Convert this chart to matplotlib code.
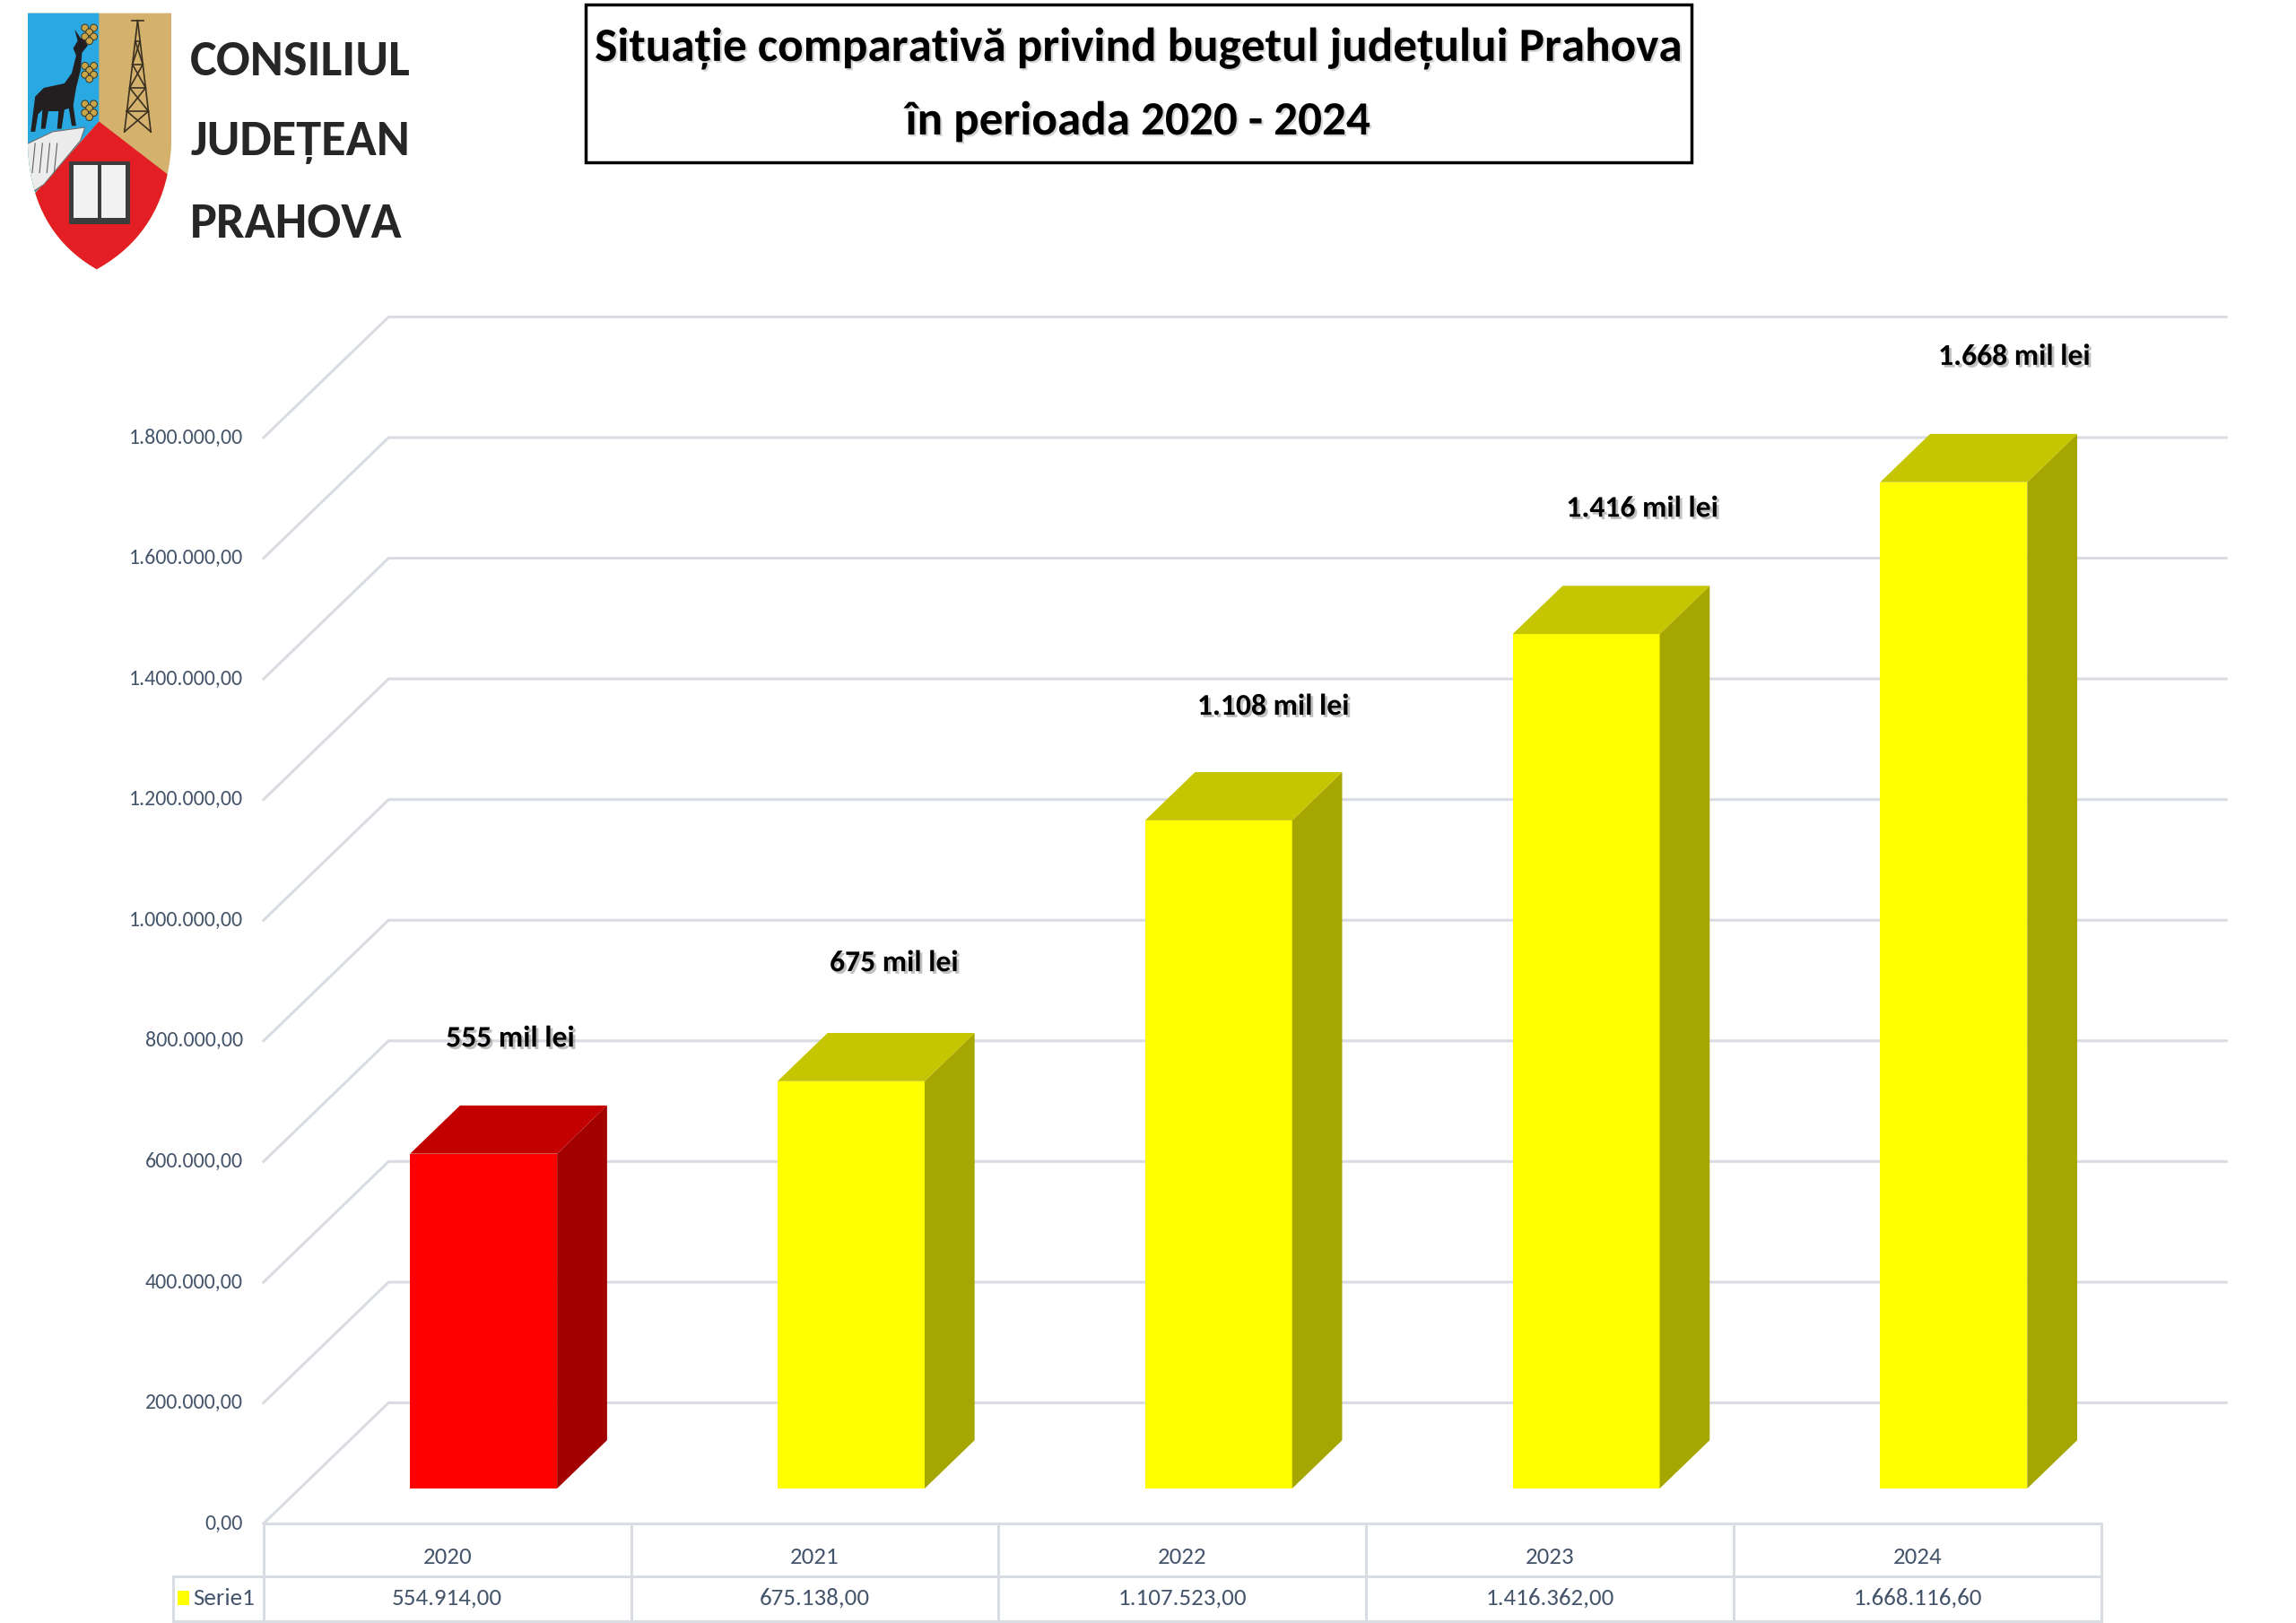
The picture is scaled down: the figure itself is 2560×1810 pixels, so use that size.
import matplotlib
matplotlib.use('Agg')
import matplotlib.pyplot as plt
from matplotlib.patches import Polygon, Rectangle, Circle
from matplotlib import font_manager as fm
from matplotlib.ft2font import FT2Font
import matplotlib.patheffects as pe
import numpy as np
import re

# ---------------- data ----------------
years = ['2020', '2021', '2022', '2023', '2024']
values = [554914.00, 675138.00, 1107523.00, 1416362.00, 1668116.60]
value_labels = ['554.914,00', '675.138,00', '1.107.523,00', '1.416.362,00', '1.668.116,60']
bar_labels = ['555 mil lei', '675 mil lei', '1.108 mil lei', '1.416 mil lei', '1.668 mil lei']
yticks = [0, 200000, 400000, 600000, 800000, 1000000, 1200000, 1400000, 1600000, 1800000]
ytick_labels = ['0,00', '200.000,00', '400.000,00', '600.000,00', '800.000,00',
                '1.000.000,00', '1.200.000,00', '1.400.000,00', '1.600.000,00', '1.800.000,00']
series_name = 'Serie1'
title_lines = ['Situație comparativă privind bugetul județului Prahova', 'în perioada 2020 - 2024']
logo_lines = ['CONSILIUL', 'JUDEȚEAN', 'PRAHOVA']

# ---------------- styles ----------------
front_colors = ['#FF0000', '#FFFF00', '#FFFF00', '#FFFF00', '#FFFF00']
side_colors = ['#A30000', '#A6A600', '#A6A600', '#A6A600', '#A6A600']
top_colors = ['#C20000', '#C6C600', '#C6C600', '#C6C600', '#C6C600']
GRID = '#D9DCE2'
TXT = '#44546A'
# label placement (layout px offsets: right of category centre / above bar's back top edge)
label_dx_px = [43, 54, 62, 63, 66]
label_dy_px = [46, 48, 45, 53, 53]

# ---------------- font choice (Calibri-like / narrow) ----------------
files = [f.fname for f in fm.fontManager.ttflist]
prefs = [
    (r'Carlito-Regular\.ttf$', r'Carlito-Bold\.ttf$'),
    (r'LiberationSansNarrow-Regular\.ttf$', r'LiberationSansNarrow-Bold\.ttf$'),
    (r'NotoSans-Condensed\.ttf$', r'NotoSans-CondensedBold\.ttf$'),
    (r'RobotoCondensed-Regular\.ttf$', r'RobotoCondensed-Bold\.ttf$'),
    (r'OpenSans_?Condensed-Regular\.ttf$', r'OpenSans_?Condensed-Bold\.ttf$'),
    (r'DejaVuSansCondensed\.ttf$', r'DejaVuSansCondensed-Bold\.ttf$'),
    (r'Lato-Regular\.ttf$', r'Lato-Bold\.ttf$'),
    (r'Roboto-Regular\.ttf$', r'Roboto-Bold\.ttf$'),
]


def has_glyphs(fname, chars='țȚîăÎ'):
    try:
        ft = FT2Font(fname)
        return all(ft.get_char_index(ord(c)) != 0 for c in chars)
    except Exception:
        return False


FP_REG = fm.FontProperties(family='DejaVu Sans')
FP_BOLD = fm.FontProperties(family='DejaVu Sans', weight='bold')
for preg, pbold in prefs:
    fr = [f for f in files if re.search(preg, f)]
    fb = [f for f in files if re.search(pbold, f)]
    if fr and fb and has_glyphs(fr[0]) and has_glyphs(fb[0]):
        FP_REG = fm.FontProperties(fname=fr[0])
        FP_BOLD = fm.FontProperties(fname=fb[0])
        break

W, H = 1568.0, 1109.0          # reference layout units
FIG_W, FIG_H = 2560, 1810
SX = FIG_W / W

fig = plt.figure(figsize=(FIG_W / 100, FIG_H / 100), dpi=100)
fig.patch.set_facecolor('white')
renderer = fig.canvas.get_renderer()


def fit_size(text, target_w, fp):
    t = fig.text(0, 0, text, fontproperties=fp)
    t.set_fontsize(20)
    w = t.get_window_extent(renderer).width
    t.remove()
    return 20 * target_w * SX / w


def txt(axis, x, y, s, fp, size, **kw):
    t = axis.text(x, y, s, fontproperties=fp, **kw)
    t.set_fontsize(size)
    return t


canvas = fig.add_axes([0, 0, 1, 1])
canvas.set_xlim(0, W)
canvas.set_ylim(H, 0)
canvas.axis('off')

# ---------------- chart axes ----------------
X0, X1 = 180.0, 1522.0
Y0, YT = 1041.0, 200.0
PX_CAT = 251.0
PX_VAL = (1041.0 - 299.0) / 1800000.0
ax = fig.add_axes([X0 / W, 1 - Y0 / H, (X1 - X0) / W, (Y0 - YT) / H])
ax.set_xlim(-0.5, -0.5 + (X1 - X0) / PX_CAT)
ax.set_ylim(0, (Y0 - YT) / PX_VAL)
ax.axis('off')


def vy(px):  # layout y (px) -> value units
    return (Y0 - px) / PX_VAL


def vx(px):  # layout x (px) -> category units
    return -0.5 + (px - X0) / PX_CAT


DX, DY = 0.34, 200000.0
F0, F1 = 0.29, 0.69
BW = 0.40
n = len(years)

# back wall + side wall grid
for v in yticks:
    ax.plot([-0.5, -0.5 + DX, n - 0.5 + DX], [v, v + DY, v + DY], color=GRID,
            lw=2.2, zorder=1, clip_on=False, solid_joinstyle='miter')

tick_fs = fit_size('1.800.000,00', 78, FP_REG)
for v, lab in zip(yticks, ytick_labels):
    txt(ax, vx(166), v, lab, FP_REG, tick_fs, ha='right', va='center', color=TXT, clip_on=False)

# bars
lab_fs = fit_size('1.668 mil lei', 100, FP_BOLD) * 1.04
shadow = [pe.withSimplePatchShadow(offset=(2, -2), shadow_rgbFace='#777777', alpha=0.45)]
for i, v in enumerate(values):
    x0 = i - BW / 2 + F0 * DX
    x1 = x0 + BW
    y0 = F0 * DY
    y1 = y0 + v
    ddx = (F1 - F0) * DX
    ddy = (F1 - F0) * DY
    ax.add_patch(Rectangle((x0, y0), BW, v, facecolor=front_colors[i], edgecolor='none',
                           zorder=3, clip_on=False))
    ax.add_patch(Polygon([(x1, y0), (x1 + ddx, y0 + ddy), (x1 + ddx, y1 + ddy), (x1, y1)],
                         closed=True, facecolor=side_colors[i], edgecolor='none', zorder=3, clip_on=False))
    ax.add_patch(Polygon([(x0, y1), (x1, y1), (x1 + ddx, y1 + ddy), (x0 + ddx, y1 + ddy)],
                         closed=True, facecolor=top_colors[i], edgecolor='none', zorder=3, clip_on=False))
    txt(ax, i + label_dx_px[i] / PX_CAT, y1 + ddy + label_dy_px[i] / PX_VAL, bar_labels[i],
        FP_BOLD, lab_fs, ha='center', va='center', color='black', zorder=5, clip_on=False,
        path_effects=shadow)

# data table
r1, r2 = vy(1077), vy(1108)
xl = vx(118)
tkw = dict(color=GRID, lw=2.2, clip_on=False, zorder=2)
ax.plot([-0.5, n - 0.5], [0, 0], **tkw)
ax.plot([xl, n - 0.5], [r1, r1], **tkw)
ax.plot([xl, n - 0.5], [r2, r2], **tkw)
for k in range(n + 1):
    ax.plot([k - 0.5, k - 0.5], [0, r2], **tkw)
ax.plot([xl, xl], [r1, r2], **tkw)

tab_fs = fit_size('1.668.116,60', 88, FP_REG)
for i in range(n):
    txt(ax, i, vy(1064), years[i], FP_REG, tab_fs, ha='center', va='center', color=TXT, clip_on=False)
    txt(ax, i, vy(1092), value_labels[i], FP_REG, tab_fs, ha='center', va='center', color=TXT,
        clip_on=False)
ax.add_patch(Rectangle((vx(121), vy(1097)), 8 / PX_CAT, 10 / PX_VAL, facecolor='#FFFF00',
                       edgecolor='none', clip_on=False))
txt(ax, vx(132), vy(1092), series_name, FP_REG, tab_fs, ha='left', va='center', color=TXT,
    clip_on=False)

# ---------------- title box ----------------
canvas.add_patch(Rectangle((400, 3), 755, 108, facecolor='white', edgecolor='black', lw=2.5, zorder=2))
title_fs = fit_size(title_lines[0], 743, FP_BOLD)
tshadow = [pe.withSimplePatchShadow(offset=(1.5, -1.5), shadow_rgbFace='#888888', alpha=0.35)]
for yy, line in zip([33, 83], title_lines):
    txt(canvas, 777, yy, line, FP_BOLD, title_fs, ha='center', va='center', color='black',
        zorder=3, path_effects=tshadow)

# ---------------- logo ----------------
def bez(p0, p1, p2, m=20):
    t = np.linspace(0, 1, m)[:, None]
    return (1 - t) ** 2 * np.array(p0) + 2 * (1 - t) * t * np.array(p1) + t ** 2 * np.array(p2)

left = np.vstack([[(19, 9), (19, 100)], bez((19, 100), (21, 158), (66, 184))])
right = np.vstack([bez((66, 184), (113, 158), (117, 100)), [(117, 9)]])
shield_pts = np.vstack([left, right])
shield = Polygon(shield_pts, closed=True, facecolor='#D4B26E', edgecolor='none', zorder=2)
canvas.add_patch(shield)


def clipped(patch):
    canvas.add_patch(patch)
    patch.set_clip_path(shield)
    return patch


clipped(Polygon([(10, 0), (67.6, 0), (67.6, 83), (10, 147)], closed=True,
                facecolor='#2AA8E2', edgecolor='none', zorder=3))
clipped(Polygon([(67.6, 83), (135, 135), (135, 200), (0, 200), (0, 159)], closed=True,
                facecolor='#E31E25', edgecolor='none', zorder=3))
# rocks
clipped(Polygon([(15, 100), (36, 90), (58, 87), (55, 96), (30, 126), (15, 136)], closed=True,
                facecolor='#ECECEC', edgecolor='#707070', lw=0.8, zorder=4))
for xx in [24, 29, 34, 39]:
    canvas.plot([xx, xx - 2], [98, 118], color='#606060', lw=0.8, zorder=5)
# chamois
goat = [(24, 66), (30, 60), (44, 57), (49, 50), (52, 38), (50, 33), (53, 28), (51, 20), (55, 26),
        (58, 27), (60, 31), (56, 36), (55, 48), (52, 60), (50, 72), (52, 86), (49, 86), (47, 74),
        (44, 75), (42, 88), (39, 88), (40, 76), (33, 76), (31, 88), (28, 88), (29, 75), (26, 78),
        (24, 90), (21, 90), (23, 74)]
canvas.add_patch(Polygon(goat, closed=True, facecolor='#231F20', edgecolor='none', zorder=5))
# grapes
for cy in [22, 48, 74]:
    for dx_, dy_ in [(-3, -3), (3, -3), (0, 0), (-3, 3), (3, 3), (0, 6)]:
        canvas.add_patch(Circle((61 + dx_, cy + dy_), 2.4, facecolor='#C9A54A', edgecolor='#3A3323',
                                lw=0.7, zorder=5))
# oil derrick
dk = dict(color='#3A3020', lw=1.2, zorder=5)
canvas.plot([94, 85], [14, 90], **dk)
canvas.plot([94, 103], [14, 90], **dk)
for yy in [28, 44, 60, 76]:
    a = (yy - 14) / 76 * 9
    canvas.plot([94 - a, 94 + a], [yy, yy], **dk)
for ya, yb in [(28, 44), (44, 60), (60, 76), (76, 90)]:
    a = (ya - 14) / 76 * 9
    b = (yb - 14) / 76 * 9
    canvas.plot([94 - a, 94 + b], [ya, yb], **dk)
    canvas.plot([94 + a, 94 - b], [ya, yb], **dk)
canvas.plot([90, 98], [14, 14], **dk)
# book
canvas.add_patch(Rectangle((47, 110), 42, 43, facecolor='#3C3C3C', edgecolor='none', zorder=5))
canvas.add_patch(Rectangle((50, 113), 17, 36, facecolor='#F2F2F2', edgecolor='none', zorder=6))
canvas.add_patch(Rectangle((69, 113), 17, 36, facecolor='#F2F2F2', edgecolor='none', zorder=6))

logo_fs = fit_size(logo_lines[0], 142, FP_BOLD) * 1.06
for yy, word in zip([42, 97, 153], logo_lines):
    txt(canvas, 130, yy, word, FP_BOLD, logo_fs, ha='left', va='center', color='#262626', zorder=3)

fig.savefig('out.png', dpi=100, facecolor='white')
